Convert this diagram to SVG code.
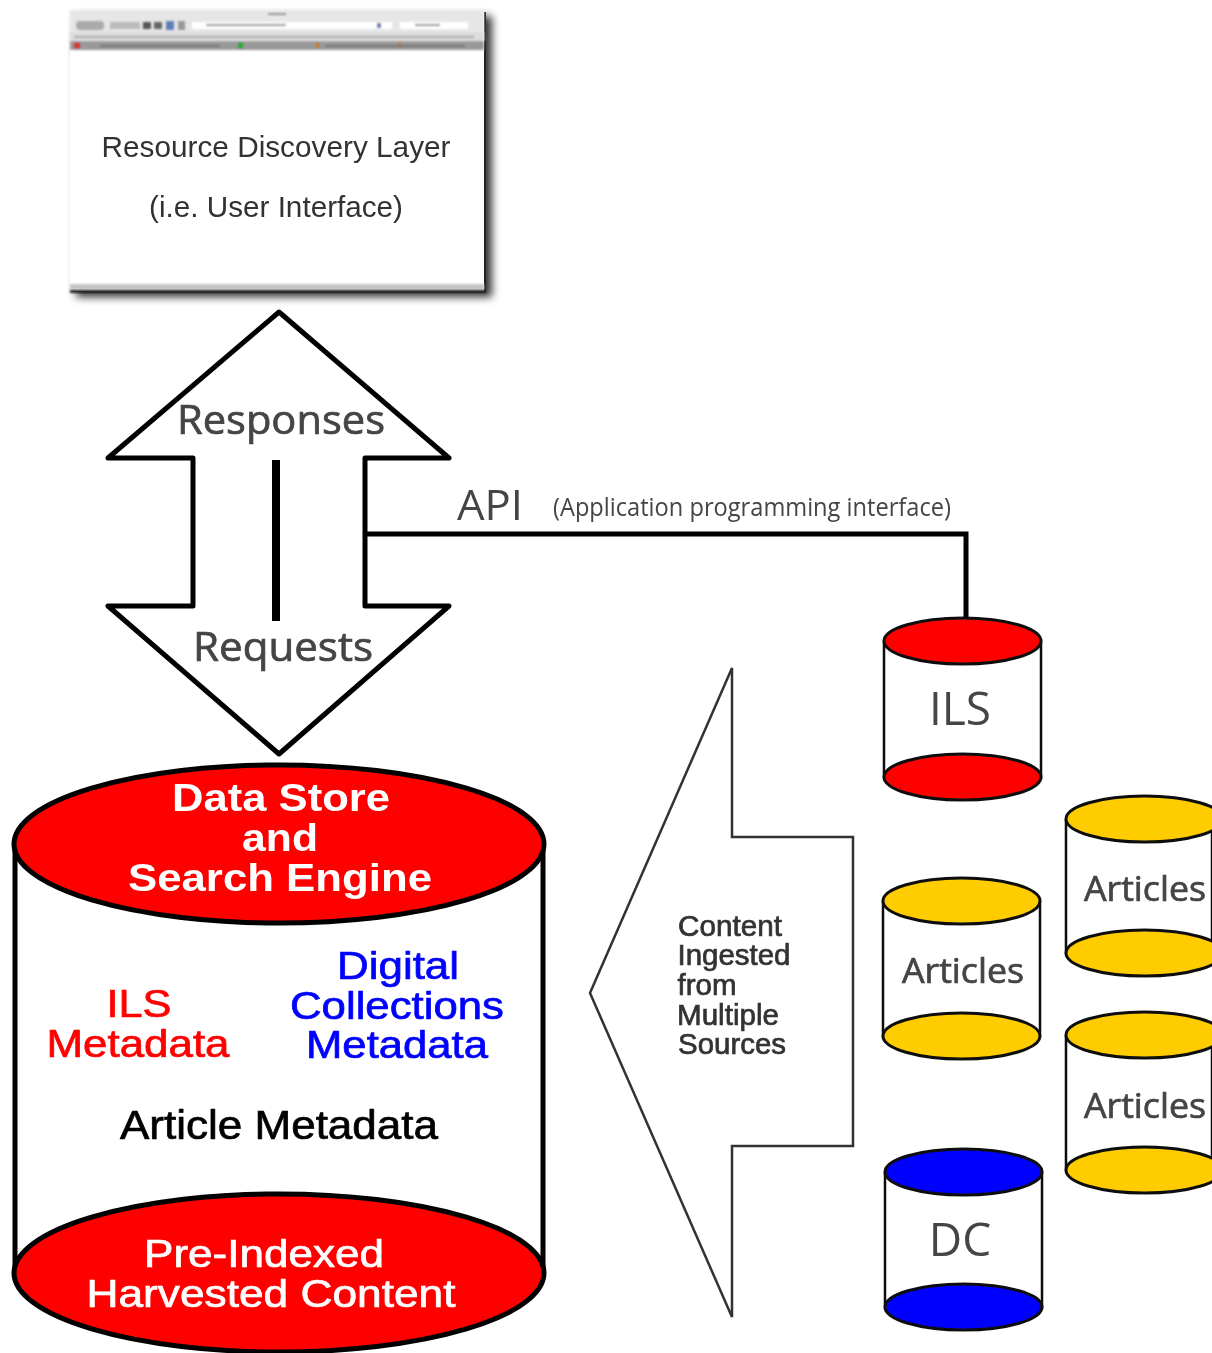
<svg xmlns="http://www.w3.org/2000/svg" width="1212" height="1353" viewBox="0 0 1212 1353">
<style>
text{text-anchor:middle;font-family:"Liberation Sans",Arial,sans-serif}
.m{font-family:"Open Sans","Noto Sans",sans-serif;fill:#444}
.h{stroke:currentColor;stroke-width:.7px}
.b{font-weight:bold}
.cyl{fill:#fff;stroke:#111;stroke-width:2.5}
.big{fill:#fff;stroke:#000;stroke-width:5;stroke-linejoin:round}
.sc{stroke:#111;stroke-width:3}
.l{fill:none;stroke:#000;stroke-width:5}
.red{fill:#f00}.yel{fill:#fc0}.blu{fill:#00f}
</style>
<defs>
<filter id="shadow" x="-10%" y="-10%" width="120%" height="120%"><feGaussianBlur stdDeviation="4"/></filter>
<filter id="soft" x="-5%" y="-30%" width="110%" height="160%"><feGaussianBlur stdDeviation="1.2"/></filter>
<filter id="all" filterUnits="userSpaceOnUse" x="0" y="0" width="1212" height="1353"><feGaussianBlur stdDeviation=".6"/></filter>
</defs>
<g filter="url(#all)">
<g id="resource-discovery-layer">
<rect x="76" y="16" width="416" height="281" fill="#000" opacity=".8" filter="url(#shadow)"/>
<rect x="482" y="12" width="4" height="280" fill="#222"/>
<rect x="70" y="10" width="414" height="281" fill="#fff"/>
<rect x="70" y="10" width="414" height="31" fill="#e6e6e6" filter="url(#soft)"/>
<rect x="70" y="32" width="414" height="9" fill="#ddd" filter="url(#soft)"/>
<rect x="70" y="41" width="414" height="9" fill="#999" filter="url(#soft)"/>
<g filter="url(#soft)">
<rect x="76" y="21" width="28" height="9" rx="4" fill="#aaa"/>
<rect x="110" y="22" width="30" height="7" fill="#bbb"/>
<rect x="143" y="22" width="8" height="7" fill="#555"/>
<rect x="154" y="22" width="8" height="7" fill="#666"/>
<rect x="166" y="21" width="8" height="9" fill="#5c7fb8"/>
<rect x="178" y="21" width="7" height="9" fill="#999"/>
<rect x="192" y="22" width="200" height="7" fill="#fff"/>
<rect x="206" y="24" width="80" height="2" fill="#888"/>
<rect x="377" y="23" width="4" height="5" fill="#56a"/>
<rect x="400" y="22" width="68" height="7" fill="#fff"/>
<rect x="415" y="24" width="25" height="2" fill="#888"/>
<rect x="268" y="13" width="18" height="2" fill="#999"/>
<rect x="74" y="36" width="400" height="2" fill="#aaa"/>
<rect x="74" y="43" width="6" height="5" fill="#d33"/>
<rect x="238" y="43" width="5" height="5" fill="#2a3"/>
<rect x="316" y="43" width="3" height="5" fill="#c71"/>
<rect x="398" y="43" width="3" height="5" fill="#c71"/>
<rect x="100" y="45" width="120" height="2" fill="#777"/>
<rect x="325" y="45" width="140" height="2" fill="#777"/>
</g>
<rect x="70" y="284" width="414" height="6" fill="#c4c4c4" filter="url(#soft)"/>
<rect x="70" y="290" width="416" height="3" fill="#222" filter="url(#soft)"/>
<text x="276" y="157" font-size="29" fill="#333" textLength="349" lengthAdjust="spacingAndGlyphs">Resource Discovery Layer</text>
<text x="276" y="217" font-size="29" fill="#333" textLength="254" lengthAdjust="spacingAndGlyphs">(i.e. User Interface)</text>
</g>
<g id="double-arrow">
<path class="big" d="M279 312L449 458H365V606H449L279 754L108 606H193V458H108Z"/>
<text class="m h" color="#444" x="281" y="434" font-size="40" textLength="208" lengthAdjust="spacingAndGlyphs">Responses</text>
<text class="m h" color="#444" x="283" y="661" font-size="40" textLength="180" lengthAdjust="spacingAndGlyphs">Requests</text>
</g>
<g id="api-label">
<text class="m" x="490" y="520" font-size="42" textLength="66" lengthAdjust="spacingAndGlyphs">API</text>
<text class="m" x="752" y="516" font-size="25" textLength="398" lengthAdjust="spacingAndGlyphs">(Application programming interface)</text>
</g>
<g id="ils">
<path class="cyl" d="M884 641V777H1041V641"/>
<ellipse class="red sc" cx="962.5" cy="641" rx="78.5" ry="23"/>
<ellipse class="red sc" cx="962.5" cy="777" rx="78.5" ry="23"/>
<text class="m" x="960" y="725" font-size="46">ILS</text>
</g>
<g id="articles-1">
<path class="cyl" d="M1066 819V953H1212V819"/>
<ellipse class="yel sc" cx="1144.5" cy="819" rx="78.5" ry="23"/>
<ellipse class="yel sc" cx="1144.5" cy="953" rx="78.5" ry="23"/>
<text class="m h" color="#444" x="1145" y="901" font-size="34" textLength="122" lengthAdjust="spacingAndGlyphs">Articles</text>
</g>
<g id="articles-2">
<path class="cyl" d="M883 901V1036H1040V901"/>
<ellipse class="yel sc" cx="961.5" cy="901" rx="78.5" ry="23"/>
<ellipse class="yel sc" cx="961.5" cy="1036" rx="78.5" ry="23"/>
<text class="m h" color="#444" x="963" y="983" font-size="34" textLength="122" lengthAdjust="spacingAndGlyphs">Articles</text>
</g>
<g id="articles-3">
<path class="cyl" d="M1066 1035V1170H1212V1035"/>
<ellipse class="yel sc" cx="1144.5" cy="1035" rx="78.5" ry="23"/>
<ellipse class="yel sc" cx="1144.5" cy="1170" rx="78.5" ry="23"/>
<text class="m h" color="#444" x="1145" y="1118" font-size="34" textLength="122" lengthAdjust="spacingAndGlyphs">Articles</text>
</g>
<g id="dc">
<path class="cyl" d="M885 1172V1307H1042V1172"/>
<ellipse class="blu sc" cx="963.5" cy="1172" rx="78.5" ry="23"/>
<ellipse class="blu sc" cx="963.5" cy="1307" rx="78.5" ry="23"/>
<text class="m" x="960" y="1256" font-size="46">DC</text>
</g>
<g id="ingest-arrow">
<path d="M732 668V837H853V1146H732V1317L590 993Z" fill="#fff" stroke="#333" stroke-width="2.5"/>
<g font-size="29" fill="#333" class="h" color="#333">
<text x="730" y="936" textLength="104" lengthAdjust="spacingAndGlyphs">Content</text>
<text x="734" y="965" textLength="113" lengthAdjust="spacingAndGlyphs">Ingested</text>
<text x="707" y="995" textLength="59" lengthAdjust="spacingAndGlyphs">from</text>
<text x="728" y="1025" textLength="102" lengthAdjust="spacingAndGlyphs">Multiple</text>
<text x="732" y="1054" textLength="108" lengthAdjust="spacingAndGlyphs">Sources</text>
</g>
</g>
<g id="data-store">
<path class="big" d="M15 844V1273H543V844"/>
<ellipse class="red big" cx="279" cy="844" rx="265" ry="79"/>
<ellipse class="red big" cx="279" cy="1273" rx="265" ry="79"/>
<g font-size="39" class="b" fill="#fff">
<text x="281" y="811" textLength="218" lengthAdjust="spacingAndGlyphs">Data Store</text>
<text x="280" y="851" textLength="76" lengthAdjust="spacingAndGlyphs">and</text>
<text x="280" y="891" textLength="304" lengthAdjust="spacingAndGlyphs">Search Engine</text>
</g>
<g font-size="39" fill="#f00" class="h" color="#f00">
<text x="139" y="1017" textLength="65" lengthAdjust="spacingAndGlyphs">ILS</text>
<text x="138" y="1057" textLength="183" lengthAdjust="spacingAndGlyphs">Metadata</text>
</g>
<g font-size="39" fill="#00f" class="h" color="#00f">
<text x="398" y="979" textLength="122" lengthAdjust="spacingAndGlyphs">Digital</text>
<text x="397" y="1019" textLength="214" lengthAdjust="spacingAndGlyphs">Collections</text>
<text x="397" y="1058" textLength="182" lengthAdjust="spacingAndGlyphs">Metadata</text>
</g>
<text x="279" y="1139" font-size="40" fill="#000" class="h" color="#000" textLength="318" lengthAdjust="spacingAndGlyphs">Article Metadata</text>
<g font-size="39" fill="#fff" class="h" color="#fff">
<text x="264" y="1267" textLength="240" lengthAdjust="spacingAndGlyphs">Pre-Indexed</text>
<text x="271" y="1307" textLength="369" lengthAdjust="spacingAndGlyphs">Harvested Content</text>
</g>
</g>
<g id="connectors">
<path class="l" d="M366 534H966V618"/>
<path d="M276 460V621" fill="none" stroke="#000" stroke-width="8"/>
</g>
</g>
</svg>
